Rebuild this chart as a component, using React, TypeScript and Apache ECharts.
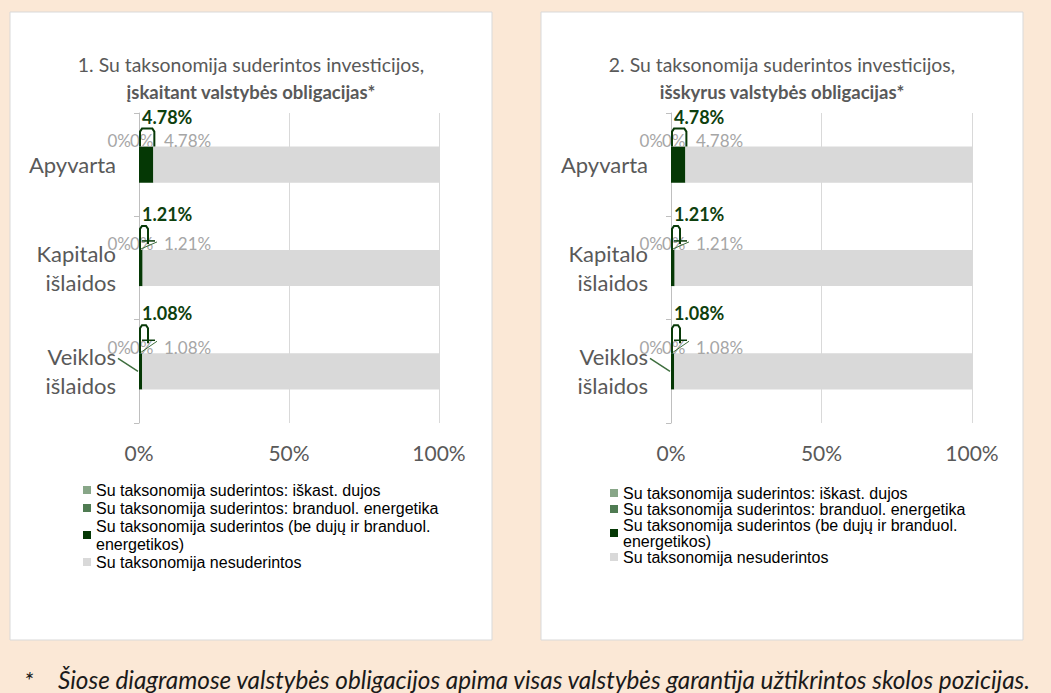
import React, { useEffect, useRef } from 'react';
import * as echarts from 'echarts';

// ---------- data ----------
const categories = ['Apyvarta', 'Kapitalo\nišlaidos', 'Veiklos\nišlaidos'];
const seriesNames = [
  'Su taksonomija suderintos: iškast. dujos',
  'Su taksonomija suderintos: branduol. energetika',
  'Su taksonomija suderintos (be dujų ir branduol. energetikos)',
  'Su taksonomija nesuderintos',
];
// chart 1 (including sovereign bonds)
const gas1 = [0, 0, 0];
const nuclear1 = [0, 0, 0];
const aligned1 = [4.78, 1.21, 1.08];
const notAligned1 = [95.22, 98.79, 98.92];
// chart 2 (excluding sovereign bonds)
const gas2 = [0, 0, 0];
const nuclear2 = [0, 0, 0];
const aligned2 = [4.78, 1.21, 1.08];
const notAligned2 = [95.22, 98.79, 98.92];

const xMin = 0;
const xMax = 100;
const xInterval = 50;

const title1 = ['1. Su taksonomija suderintos investicijos,', 'įskaitant valstybės obligacijas*'];
const title2 = ['2. Su taksonomija suderintos investicijos,', 'išskyrus valstybės obligacijas*'];
const footnote = 'Šiose diagramose valstybės obligacijos apima visas valstybės garantija užtikrintos skolos pozicijas.';

// ---------- style / layout ----------
const colors = ['#88A688', '#4F7B52', '#053805', '#D9D9D9'];
const FONT = 'Lato, "Open Sans", sans-serif';
const BAR_RATIO = 0.35;
const calloutRaise = [0, 6, 10];
const labelLeaderRows = [2];
const panels = [
  { x: 10, y: 12, w: 482, h: 628 },
  { x: 541, y: 12, w: 482, h: 628 },
];
const grids = [
  { left: 139, top: 113, width: 300, height: 310 },
  { left: 671, top: 113, width: 301, height: 310 },
];

const pct = (v: number) => `${v}%`;

function makeBarSeries(gi: number, gas: number[], nuclear: number[], aligned: number[], notAligned: number[]) {
  const base = {
    type: 'bar',
    stack: 'total' + gi,
    xAxisIndex: gi,
    yAxisIndex: gi,
    barWidth: `${BAR_RATIO * 100}%`,
  };
  const greyLabel = { color: '#A6A6A6', fontSize: 17, fontFamily: FONT };
  return [
    {
      ...base,
      name: seriesNames[0],
      data: gas,
      itemStyle: { color: colors[0] },
      label: {
        show: true,
        position: [-8, -6],
        align: 'right',
        verticalAlign: 'middle',
        formatter: (p: any) => pct(p.value),
        ...greyLabel,
      },
    },
    {
      ...base,
      name: seriesNames[1],
      data: nuclear,
      itemStyle: { color: colors[1] },
      label: {
        show: true,
        position: [-9, -6],
        align: 'left',
        verticalAlign: 'middle',
        formatter: (p: any) => pct(p.value),
        ...greyLabel,
      },
    },
    {
      ...base,
      name: seriesNames[2],
      data: aligned,
      itemStyle: { color: colors[2] },
    },
    {
      ...base,
      name: seriesNames[3],
      data: notAligned,
      itemStyle: { color: colors[3] },
    },
  ];
}

function makeCalloutSeries(gi: number, aligned: number[]) {
  return {
    type: 'custom',
    name: 'callout' + gi,
    xAxisIndex: gi,
    yAxisIndex: gi,
    silent: true,
    z: 5,
    data: aligned.map((v, i) => [v, i]),
    encode: { x: 0, y: 1 },
    renderItem: (params: any, api: any) => {
      const i = params.dataIndex;
      const v = api.value(0);
      const p0 = api.coord([0, i]);
      const x0 = p0[0];
      const yc = p0[1];
      const x1 = api.coord([v, i])[0];
      const band = api.size([0, 1])[1];
      const top = yc - (band * BAR_RATIO) / 2;
      const raise = calloutRaise[i] || 0;
      const bx0 = x0 + 1;
      const bx1 = Math.max(x1 + 1, x0 + 9);
      const bTop = top - 18 - raise;
      const stroke = '#083A08';
      const children: any[] = [
        {
          type: 'polyline',
          shape: {
            points: [
              [bx0, top],
              [bx0, bTop + 3],
              [bx0 + 2, bTop],
              [bx1 - 2, bTop],
              [bx1, bTop + 3],
              [bx1, top - raise],
            ],
          },
          style: { stroke, lineWidth: 2, fill: null },
        },
        {
          type: 'text',
          x: x0 + 3,
          y: bTop - 12,
          style: {
            text: pct(v),
            fill: '#0E400E',
            font: `bold 18px ${FONT}`,
            align: 'left',
            verticalAlign: 'middle',
            textAlign: 'left',
            textVerticalAlign: 'middle',
          },
        },
        {
          type: 'text',
          x: x0 + 25,
          y: top - 6,
          style: {
            text: pct(v),
            fill: '#A6A6A6',
            font: `17px ${FONT}`,
            align: 'left',
            verticalAlign: 'middle',
            textAlign: 'left',
            textVerticalAlign: 'middle',
          },
        },
      ];
      if (raise > 0) {
        children.push({
          type: 'line',
          shape: { x1: x0 + 3, y1: top - raise - 3, x2: x0 + 16, y2: top - raise - 3 },
          style: { stroke, lineWidth: 1.5 },
        });
        children.push({
          type: 'line',
          shape: { x1: x0 + 2, y1: top - 1, x2: x0 + 18, y2: top - raise - 2 },
          style: { stroke: '#3E6E3E', lineWidth: 1 },
        });
      }
      if (labelLeaderRows.indexOf(i) >= 0) {
        children.push({
          type: 'line',
          shape: { x1: x0 - 21, y1: yc - 13, x2: x0 - 1, y2: yc },
          style: { stroke: '#3E6E3E', lineWidth: 1.5 },
        });
      }
      return { type: 'group', children };
    },
  };
}

function makeAxes(gi: number) {
  const axisColor = '#595959';
  return {
    x: {
      type: 'value',
      gridIndex: gi,
      min: xMin,
      max: xMax,
      interval: xInterval,
      axisLine: { show: false },
      axisTick: { show: false },
      splitLine: { show: true, lineStyle: { color: '#D9D9D9', width: 1 } },
      axisLabel: {
        formatter: '{value}%',
        color: axisColor,
        fontSize: 21,
        fontFamily: FONT,
        margin: 19,
      },
    },
    y: {
      type: 'category',
      gridIndex: gi,
      data: categories,
      inverse: true,
      axisLine: { show: true, lineStyle: { color: '#BFBFBF', width: 1 } },
      axisTick: { show: true, length: 5, lineStyle: { color: '#BFBFBF' } },
      axisLabel: {
        color: axisColor,
        fontSize: 22,
        fontFamily: FONT,
        margin: 23,
        lineHeight: 29,
        align: 'right',
      },
    },
  };
}

function makeLegend(left: number, top: number, lineHeight: number) {
  return {
    orient: 'vertical',
    left,
    top,
    itemWidth: 8,
    itemHeight: 8,
    itemGap: 0,
    icon: 'rect',
    data: seriesNames,
    formatter: (name: string) => name.replace(' energetikos)', '\nenergetikos)'),
    textStyle: {
      color: '#000000',
      fontSize: 16,
      fontFamily: '"Liberation Sans", Arial, sans-serif',
      lineHeight,
    },
  };
}

export default function App() {
  const ref = useRef<HTMLDivElement>(null);
  useEffect(() => {
    if (!ref.current) return;
    const chart = echarts.init(ref.current, undefined, { renderer: 'svg' });
    const a0 = makeAxes(0);
    const a1 = makeAxes(1);
    const titleText = (t: string[], cx: number) => [
      {
        type: 'text',
        x: cx,
        y: 64,
        style: { text: t[0], fill: '#595959', font: `19.4px ${FONT}`, textAlign: 'center', textVerticalAlign: 'middle' },
      },
      {
        type: 'text',
        x: cx,
        y: 92,
        style: { text: t[1], fill: '#595959', font: `bold 18.5px ${FONT}`, textAlign: 'center', textVerticalAlign: 'middle' },
      },
    ];
    const option: any = {
      animation: false,
      backgroundColor: '#FBE8D6',
      color: colors,
      graphic: [
        ...panels.map((p) => ({
          type: 'rect',
          z: -10,
          shape: { x: p.x, y: p.y, width: p.w, height: p.h },
          style: { fill: '#FFFFFF', stroke: '#D9D9D9', lineWidth: 1 },
        })),
        ...titleText(title1, panels[0].x + panels[0].w / 2),
        ...titleText(title2, panels[1].x + panels[1].w / 2),
        {
          type: 'text',
          x: 24,
          y: 679,
          style: { text: '*', fill: '#1A1A1A', font: `italic 24px ${FONT}`, textVerticalAlign: 'middle' },
        },
        {
          type: 'text',
          x: 58,
          y: 679,
          style: { text: footnote, fill: '#1A1A1A', font: `italic 24.3px ${FONT}`, textVerticalAlign: 'middle' },
        },
      ],
      grid: grids.map((g) => ({ ...g, containLabel: false })),
      xAxis: [a0.x, a1.x],
      yAxis: [a0.y, a1.y],
      legend: [makeLegend(78, 476, 18), makeLegend(605, 480, 16)],
      series: [
        ...makeBarSeries(0, gas1, nuclear1, aligned1, notAligned1),
        ...makeBarSeries(1, gas2, nuclear2, aligned2, notAligned2),
        makeCalloutSeries(0, aligned1),
        makeCalloutSeries(1, aligned2),
      ],
    };
    chart.setOption(option);
    return () => chart.dispose();
  }, []);
  return (
    <div
      ref={ref}
      style={{ position: 'fixed', left: 0, top: 0, width: 1051, height: 693 }}
    />
  );
}
